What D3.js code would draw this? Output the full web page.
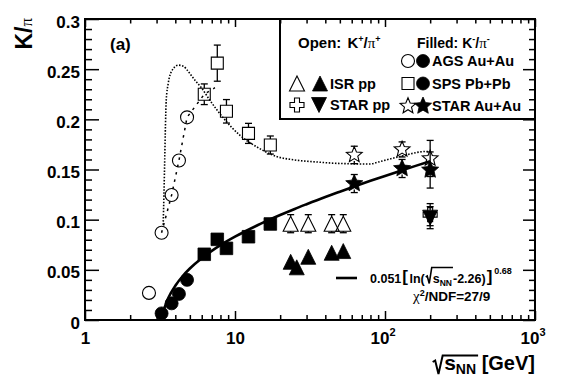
<!DOCTYPE html>
<html><head><meta charset="utf-8">
<script src="https://cdn.jsdelivr.net/npm/d3@7"></script>
<style>
body{margin:0;background:#fff}
svg{display:block}
text{font-family:"Liberation Sans",Arial,Helvetica,sans-serif;font-weight:bold;fill:#000}
.greek{font-family:"Liberation Serif","DejaVu Serif",serif;font-weight:normal}
</style>
</head><body>
<svg id="c" width="564" height="377"></svg>
<script>
// ---------------- data ----------------
const agsEnergy = [2.67, 3.24, 3.78, 4.23, 4.79];
const agsKplusPiplus = [0.027, 0.087, 0.1246, 0.159, 0.202];
const agsKminusEnergy = [3.24, 3.78, 4.23, 4.79];
const agsKminusPiminus = [0.0066, 0.0166, 0.026, 0.040];

const spsEnergy = [6.24, 7.62, 8.77, 12.3, 17.2];
const spsKplusPiplus = [0.225, 0.256, 0.208, 0.186, 0.1744];
const spsKplusErr = [0.0103, 0.018, 0.0117, 0.010, 0.009];
const spsKminusPiminus = [0.0655, 0.0804, 0.0714, 0.083, 0.0957];

const isrEnergy = [23.5, 30.8, 44.1, 52.7];
const isrKplusPiplus = [0.096, 0.096, 0.096, 0.096];
const isrKplusErr = [0.009, 0.009, 0.009, 0.009];
const isrKminusEnergy = [23.5, 25.8, 30.8, 44.1, 52.7];
const isrKminusPiminus = [0.058, 0.0525, 0.063, 0.067, 0.0687];

const starPPEnergy = [200];
const starPPKplusPiplus = [0.105];
const starPPKminusPiminus = [0.102];
const starPPErr = [0.011];

const starAuAuEnergy = [62.4, 130, 200];
const starAuAuKplusPiplus = [0.1645, 0.170, 0.161];
const starAuAuKplusErr = [0.0087, 0.0075, 0.018];
const starAuAuKminusPiminus = [0.136, 0.151, 0.1495];
const starAuAuKminusErr = [0.009, 0.009, 0.018];

// dotted model curve (K+/pi+)
const modelEnergy = [3.32, 3.36, 3.40, 3.44, 3.48, 3.59, 3.78, 4.19, 4.52, 4.89, 5.41, 6.0, 6.8, 8.4, 10.8, 13.9, 18.9, 25, 35, 50, 79, 93, 126, 189, 200];
const modelValue  = [0.095, 0.125, 0.16, 0.195, 0.219, 0.236, 0.248, 0.254, 0.253, 0.2475, 0.239, 0.231, 0.219, 0.201, 0.184, 0.1727, 0.163, 0.1595, 0.1575, 0.156, 0.1555, 0.158, 0.163, 0.168, 0.168];

// dashed line through the AGS K+/pi+ points
const dashedEnergy = [3.24, 3.78, 4.23, 4.79, 6.24, 7.35];
const dashedValue  = [0.087, 0.1246, 0.159, 0.202, 0.225, 0.2315];

// solid fit curve 0.051[ln(sqrt(s)-2.26)]^0.68 (K-/pi-)
const fitEnergy = [3.28, 3.35, 3.5, 3.75, 4, 4.5, 5, 6, 7, 8, 10, 12, 15, 20, 25, 30, 40, 50, 63, 80, 100, 130, 160, 200];
const fitValue  = [0.0035, 0.0096, 0.0179, 0.0273, 0.0341, 0.0441, 0.0513, 0.0616, 0.0689, 0.0746, 0.0830, 0.0892, 0.0963, 0.1046, 0.1107, 0.1154, 0.1226, 0.1279, 0.1333, 0.1387, 0.1436, 0.1492, 0.1536, 0.1583];

// ticks
const yTickValues = [0, 0.05, 0.1, 0.15, 0.2, 0.25, 0.3];
const yTickLabels = ["0", "0.05", "0.1", "0.15", "0.2", "0.25", "0.3"];
const xTickValues = [1, 10, 100, 1000];
const xTickBase = ["1", "10", "10", "10"];
const xTickExp = ["", "", "2", "3"];

// ---------------- drawing ----------------
const svg = d3.select('#c');
const L = 85, R = 535, T = 19, B = 320;
const x = d3.scaleLog().domain([1, 1000]).range([L, R]);
const y = d3.scaleLinear().domain([0, 0.3]).range([B, T]);

svg.append('rect').attr('width', 564).attr('height', 377).attr('fill', '#fff');

// legend box (behind ticks)
svg.append('rect').attr('x', 280).attr('y', T).attr('width', R - 280).attr('height', 100)
  .attr('fill', '#fff').attr('stroke', '#000').attr('stroke-width', 2);

// minor tick values
const yMinor = d3.range(1, 30).map(i => i / 100).filter((d, i) => (i + 1) % 5 !== 0);
const xMinor = [];
[1, 10, 100].forEach(dec => { for (let k = 2; k <= 9; k++) xMinor.push(k * dec); });

function axisG(axis, tx, ty) {
  const g = svg.append('g').attr('transform', `translate(${tx},${ty})`).call(axis);
  g.select('.domain').remove();
  g.selectAll('.tick line').attr('stroke-width', 1.5);
  g.attr('font-family', null).attr('font-size', 17);
  return g;
}
// left
const gL = axisG(d3.axisLeft(y).tickValues(yTickValues).tickFormat((d, i) => yTickLabels[i]).tickSizeInner(-14).tickSizeOuter(0).tickPadding(5), L, 0);
gL.selectAll('.tick text').attr('dy', null).attr('y', 8);
axisG(d3.axisLeft(y).tickValues(yMinor).tickFormat('').tickSizeInner(-7).tickSizeOuter(0), L, 0);
// right
axisG(d3.axisRight(y).tickValues(yTickValues).tickFormat('').tickSizeInner(-12).tickSizeOuter(0), R, 0);
axisG(d3.axisRight(y).tickValues(yMinor).tickFormat('').tickSizeInner(-6).tickSizeOuter(0), R, 0);
// bottom
const gB = axisG(d3.axisBottom(x).tickValues(xTickValues).tickFormat('').tickSizeInner(-9).tickSizeOuter(0), 0, B);
gB.selectAll('.tick text').each(function (d, i) {
  const t = d3.select(this);
  t.attr('dy', null).attr('y', 23.5).attr('x', xTickExp[i] ? -2.5 : 0);
  t.append('tspan').text(xTickBase[i]);
  if (xTickExp[i]) t.append('tspan').attr('font-size', 11).attr('dy', -8).text(xTickExp[i]);
});
axisG(d3.axisBottom(x).tickValues(xMinor).tickFormat('').tickSizeInner(-5).tickSizeOuter(0), 0, B);
// top
axisG(d3.axisTop(x).tickValues(xTickValues).tickFormat('').tickSizeInner(-8).tickSizeOuter(0), 0, T);
axisG(d3.axisTop(x).tickValues(xMinor).tickFormat('').tickSizeInner(-4.5).tickSizeOuter(0), 0, T);

// frame
svg.append('rect').attr('x', L).attr('y', T).attr('width', R - L).attr('height', B - T)
  .attr('fill', 'none').attr('stroke', '#000').attr('stroke-width', 2);

// curves
svg.append('path').datum(d3.zip(modelEnergy, modelValue))
  .attr('d', d3.line().x(d => x(d[0])).y(d => y(d[1])).curve(d3.curveMonotoneX)).attr('fill', 'none').attr('stroke', '#000')
  .attr('stroke-width', 1.6).attr('stroke-dasharray', '1.5,1.6');
svg.append('path').datum(d3.zip(dashedEnergy, dashedValue))
  .attr('d', d3.line().x(d => x(d[0])).y(d => y(d[1]))).attr('fill', 'none').attr('stroke', '#000')
  .attr('stroke-width', 1.5).attr('stroke-dasharray', '2.5,5');
svg.append('path').datum(d3.zip(fitEnergy, fitValue))
  .attr('d', d3.line().x(d => x(d[0])).y(d => y(d[1])).curve(d3.curveMonotoneX)).attr('fill', 'none').attr('stroke', '#000')
  .attr('stroke-width', 2.6);

// markers
function starPath(Ro, Ri) {
  let p = '';
  for (let k = 0; k < 10; k++) {
    const a = -Math.PI / 2 + k * Math.PI / 5;
    const r = k % 2 === 0 ? Ro : Ri;
    p += (k === 0 ? 'M' : 'L') + (r * Math.cos(a)).toFixed(2) + ',' + (r * Math.sin(a)).toFixed(2);
  }
  return p + 'Z';
}
const shapes = {
  openCircle: { d: d3.arc()({ innerRadius: 0, outerRadius: 6.5, startAngle: 0, endAngle: 2 * Math.PI }), fill: false, half: 6.5 },
  filledCircle: { d: d3.arc()({ innerRadius: 0, outerRadius: 6.5, startAngle: 0, endAngle: 2 * Math.PI }), fill: true, half: 6.5 },
  openSquare: { d: 'M-6,-6H6V6H-6Z', fill: false, half: 6 },
  filledSquare: { d: 'M-6.3,-6.3H6.3V6.3H-6.3Z', fill: true, half: 6.3 },
  openTriUp: { d: 'M0,-7.5L7.5,7.5L-7.5,7.5Z', fill: false, half: 7.5 },
  filledTriUp: { d: 'M0,-7.5L7.5,7.5L-7.5,7.5Z', fill: true, half: 7.5 },
  filledTriDown: { d: 'M0,7.5L7.5,-7.5L-7.5,-7.5Z', fill: true, half: 7.5 },
  openCross: { d: 'M-2.5,-7H2.5V-2.5H7V2.5H2.5V7H-2.5V2.5H-7V-2.5H-2.5Z', fill: false, half: 7 },
  openStar: { d: starPath(8.3, 3.7), fill: false, half: 6 },
  filledStar: { d: starPath(9, 4.2), fill: true, half: 6 }
};
function drawMarker(type, px, py) {
  const s = shapes[type];
  svg.append('path').attr('d', s.d).attr('transform', `translate(${px},${py})`)
    .attr('fill', s.fill ? '#000' : 'none').attr('stroke', '#000').attr('stroke-width', s.fill ? 0.8 : 1.1);
}
function drawErr(type, e, v, err) {
  const px = x(e), p0 = y(v), top = y(v + err), bot = y(v - err), h = shapes[type].half;
  const g = svg.append('g').attr('stroke', '#000').attr('stroke-width', 1.3);
  if (top < p0 - h) g.append('line').attr('x1', px).attr('x2', px).attr('y1', top).attr('y2', p0 - h);
  if (bot > p0 + h) g.append('line').attr('x1', px).attr('x2', px).attr('y1', p0 + h).attr('y2', bot);
  g.append('line').attr('x1', px - 3.5).attr('x2', px + 3.5).attr('y1', top).attr('y2', top);
  g.append('line').attr('x1', px - 3.5).attr('x2', px + 3.5).attr('y1', bot).attr('y2', bot);
}
function series(type, es, vs, errs) {
  es.forEach((e, i) => {
    if (errs) drawErr(type, e, vs[i], errs[i]);
    drawMarker(type, x(e), y(vs[i]));
  });
}

series('openCircle', agsEnergy, agsKplusPiplus);
series('filledCircle', agsKminusEnergy, agsKminusPiminus);
series('openSquare', spsEnergy, spsKplusPiplus, spsKplusErr);
series('filledSquare', spsEnergy, spsKminusPiminus);
series('openTriUp', isrEnergy, isrKplusPiplus, isrKplusErr);
series('filledTriUp', isrKminusEnergy, isrKminusPiminus);
series('openCross', starPPEnergy, starPPKplusPiplus, starPPErr);
series('filledTriDown', starPPEnergy, starPPKminusPiminus, starPPErr);
series('openStar', starAuAuEnergy, starAuAuKplusPiplus, starAuAuKplusErr);
series('filledStar', starAuAuEnergy, starAuAuKminusPiminus, starAuAuKminusErr);

// ---------------- texts ----------------
// y title
const yt = svg.append('text').attr('transform', 'translate(32,18) rotate(-90)').attr('text-anchor', 'end').attr('font-size', 23);
yt.append('tspan').text('K/');
yt.append('tspan').attr('class', 'greek').attr('font-size', 17).text('π');

// (a)
svg.append('text').attr('x', 110).attr('y', 50).attr('font-size', 17).text('(a)');

// legend headers
function header(x0, word, sign, gap, fsz) {
  const t = svg.append('text').attr('x', x0).attr('y', 47.5).attr('font-size', fsz);
  t.append('tspan').text(word);
  t.append('tspan').attr('dx', gap).text('K');
  t.append('tspan').attr('font-size', 9).attr('dy', -6).text(sign);
  t.append('tspan').attr('dy', 6).text('/');
  t.append('tspan').attr('class', 'greek').attr('font-size', 15).text('π');
  t.append('tspan').attr('font-size', 9).attr('dy', -6).text(sign);
}
header(298, 'Open: ', '+', 2, 15);
header(417, 'Filled: ', '-', 0, 14);

// legend entries
const legendRows = [
  { m: ['openTriUp', 'filledTriUp'], label: 'ISR pp', x0: 297, dx: 23, tx: 330, y0: 83.5 },
  { m: ['openCross', 'filledTriDown'], label: 'STAR pp', x0: 297, dx: 22, tx: 330, y0: 105 },
  { m: ['openCircle', 'filledCircle'], label: 'AGS Au+Au', x0: 408, dx: 15, tx: 432, y0: 61 },
  { m: ['openSquare', 'filledCircle'], label: 'SPS Pb+Pb', x0: 408, dx: 15, tx: 432, y0: 83.5 },
  { m: ['openStar', 'filledStar'], label: 'STAR Au+Au', x0: 408, dx: 15, tx: 432, y0: 106 }
];
legendRows.forEach(r => {
  drawMarker(r.m[0], r.x0, r.y0);
  drawMarker(r.m[1], r.x0 + r.dx, r.y0);
  svg.append('text').attr('x', r.tx).attr('y', r.y0 + 5).attr('font-size', 14.5).text(r.label);
});

// fit legend
svg.append('line').attr('x1', 336).attr('x2', 357).attr('y1', 278).attr('y2', 278).attr('stroke', '#000').attr('stroke-width', 2.6);
const ft = svg.append('text').attr('x', 370).attr('y', 282.5).attr('font-size', 12.5);
ft.append('tspan').text('0.051');
ft.append('tspan').attr('dx', 1).attr('font-size', 17).attr('dy', -0.5).text('[');
ft.append('tspan').attr('dx', 1.5).attr('dy', 0.5).text('ln(');
const fs = ft.append('tspan').attr('dx', 8).text('s');
const fnn = ft.append('tspan').attr('font-size', 8.5).attr('dy', 3).text('NN');
ft.append('tspan').attr('dx', 1).attr('dy', -3).text('-2.26)');
ft.append('tspan').attr('dx', 1).attr('font-size', 17).attr('dy', -0.5).text(']');
ft.append('tspan').attr('dx', 2).attr('font-size', 9).attr('dy', -8.5).text('0.68');
{
  const sx = fs.node().getStartPositionOfChar(0).x;
  const ex = fnn.node().getEndPositionOfChar(1).x;
  svg.append('path').attr('d', `M${sx - 7},${277}L${sx - 5.5},${276}L${sx - 3.5},${283.5}L${sx - 1},${267.5}L${ex + 1},${267.5}`)
    .attr('fill', 'none').attr('stroke', '#000').attr('stroke-width', 1.6);
}
const ct = svg.append('text').attr('x', 413).attr('y', 301).attr('font-size', 13.5);
ct.append('tspan').attr('class', 'greek').attr('font-size', 15).text('χ');
ct.append('tspan').attr('font-size', 9).attr('dy', -5).text('2');
ct.append('tspan').attr('dy', 5).text('/NDF=27/9');

// x title (right-aligned at the frame edge)
const xt = svg.append('text').attr('x', 535).attr('y', 370).attr('font-size', 21).attr('text-anchor', 'end');
const xs = xt.append('tspan').text('s');
const xnn = xt.append('tspan').attr('font-size', 14).attr('dy', 4).text('NN');
xt.append('tspan').attr('dy', -4).attr('font-size', 20).text(' [GeV]');
{
  const sx = xs.node().getStartPositionOfChar(0).x;
  const ex = xnn.node().getEndPositionOfChar(1).x;
  svg.append('path').attr('d', `M${sx - 11.5},${362}L${sx - 9},${360.5}L${sx - 5.7},${374}L${sx - 1.5},${355.5}L${ex + 2},${355.5}`)
    .attr('fill', 'none').attr('stroke', '#000').attr('stroke-width', 2);
}
</script>
</body></html>
